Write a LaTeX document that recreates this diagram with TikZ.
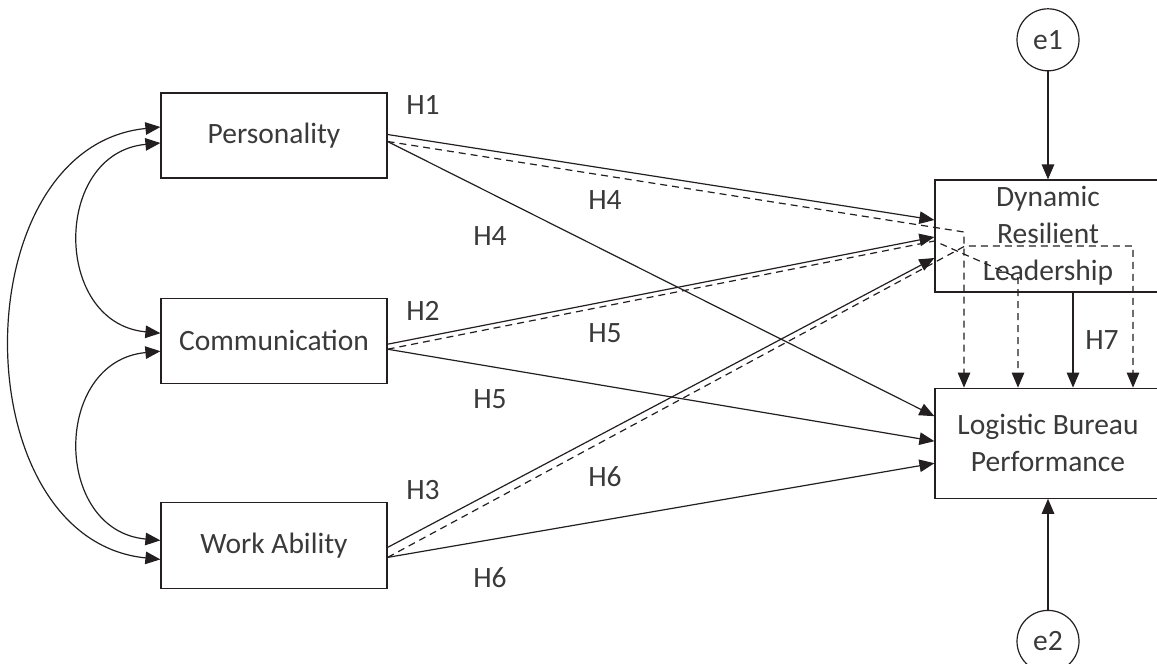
\documentclass[tikz,border=0pt]{standalone}
\usepackage{fontspec}
\setmainfont{Carlito}
\usepackage{tikz}
\usetikzlibrary{positioning,arrows.meta}
\definecolor{linegray}{HTML}{231F20}
\definecolor{textgray}{HTML}{3A3A3A}

\begin{document}
\begin{tikzpicture}[
x=1pt, y=-1pt,
box/.style={rectangle, draw=linegray, line width=1.2pt, minimum width=226pt, inner sep=0pt, text=textgray, font=\fontsize{29.5}{37}\selectfont, align=center},
errnode/.style={circle, draw=linegray, line width=1.2pt, minimum size=62pt, inner sep=0pt, text=textgray, font=\fontsize{29.5}{34}\selectfont},
hlabel/.style={inner sep=0pt, text=textgray, font=\fontsize{29.5}{34}\selectfont},
arr/.style={draw=linegray, line width=1.2pt, -{Triangle[length=15pt,width=12.5pt]}},
dasharr/.style={arr, dash pattern=on 7pt off 5pt},
biarr/.style={draw=linegray, line width=1.2pt, {Triangle[length=15pt,width=12.5pt]}-{Triangle[length=15pt,width=12.5pt]}},
]
\useasboundingbox (0,0) rectangle (1157,664);

\node[box, minimum height=85pt] (pers) at (274,135.5) {Personality};
\node[box, minimum height=85pt] (comm) [below=119pt of pers] {Communication};
\node[box, minimum height=86pt] (work) [below=118pt of comm] {Work Ability};
\node[box, minimum height=112pt] (drl) at (1048,236) {Dynamic\\Resilient\\Leadership};
\node[box, minimum height=110pt] (lbp) [below=95pt of drl] {Logistic Bureau\\Performance};

%Error terms
\node[errnode] (e1) [above=108pt of drl] {e1};
\node[errnode] (e2) [below=111pt of lbp] {e2};

%Hypothesis labels
\node[hlabel] (h1) at (423,105) {H1};
\node[hlabel] (h2) at (423,311) {H2};
\node[hlabel] (h3) at (423,490) {H3};
\node[hlabel] (h4a) at (605,200) {H4};
\node[hlabel] (h4b) at (490,236) {H4};
\node[hlabel] (h5a) at (605,333) {H5};
\node[hlabel] (h5b) at (490,399) {H5};
\node[hlabel] (h6a) at (605,477) {H6};
\node[hlabel] (h6b) at (490,578) {H6};
\node[hlabel] (h7) at (1102,340) {H7};

%Bend points of the mediation paths
\coordinate (kp) at (964,232);
\coordinate (kc) at (1018,278);
\coordinate (kw) at (965,246);
\coordinate (kw2) at (1133,246);

%Draw lines
%Correlations
\draw[biarr] ([yshift=8.5pt]pers.west) .. controls +(-199,20) and +(-199,-20) .. ([yshift=-14pt]work.west);
\draw[biarr] ([yshift=-7.5pt]pers.west) .. controls +(-108,10) and +(-108,-10) .. ([yshift=7.5pt]comm.west);
\draw[biarr] ([yshift=-10.5pt]comm.west) .. controls +(-108,10) and +(-108,-10) .. ([yshift=5pt]work.west);

%To Dynamic Resilient Leadership
\draw[arr] ([yshift=1pt]pers.east) -- ([yshift=16pt]drl.west);
\draw[arr] ([yshift=-3.5pt]comm.east) -- ([yshift=-1pt]drl.west);
\draw[arr] ([yshift=-2pt]work.east) -- ([yshift=-22pt]drl.west);

%To Logistic Bureau Performance
\draw[arr] ([yshift=-6pt]pers.east) -- ([yshift=27pt]lbp.west);
\draw[arr] ([yshift=-8.5pt]comm.east) -- ([yshift=2pt]lbp.west);
\draw[arr] ([yshift=-12pt]work.east) -- ([yshift=-20pt]lbp.west);

%Mediation
\draw[dasharr] ([yshift=-6pt]pers.east) -- (kp) -- (kp |- lbp.north);
\draw[dasharr] ([yshift=-8.5pt]comm.east) -- ([yshift=-5pt]drl.west) -- (kc) -- (kc |- lbp.north);
\draw[dasharr] ([yshift=-12pt]work.east) -- (kw) -- (kw2) -- (kw2 |- lbp.north);
\draw[arr] ([xshift=25pt]drl.south) -- ([xshift=25pt]lbp.north);

%Errors
\draw[arr] (e1) -- (drl);
\draw[arr] (e2) -- (lbp);
\end{tikzpicture}
\end{document}
